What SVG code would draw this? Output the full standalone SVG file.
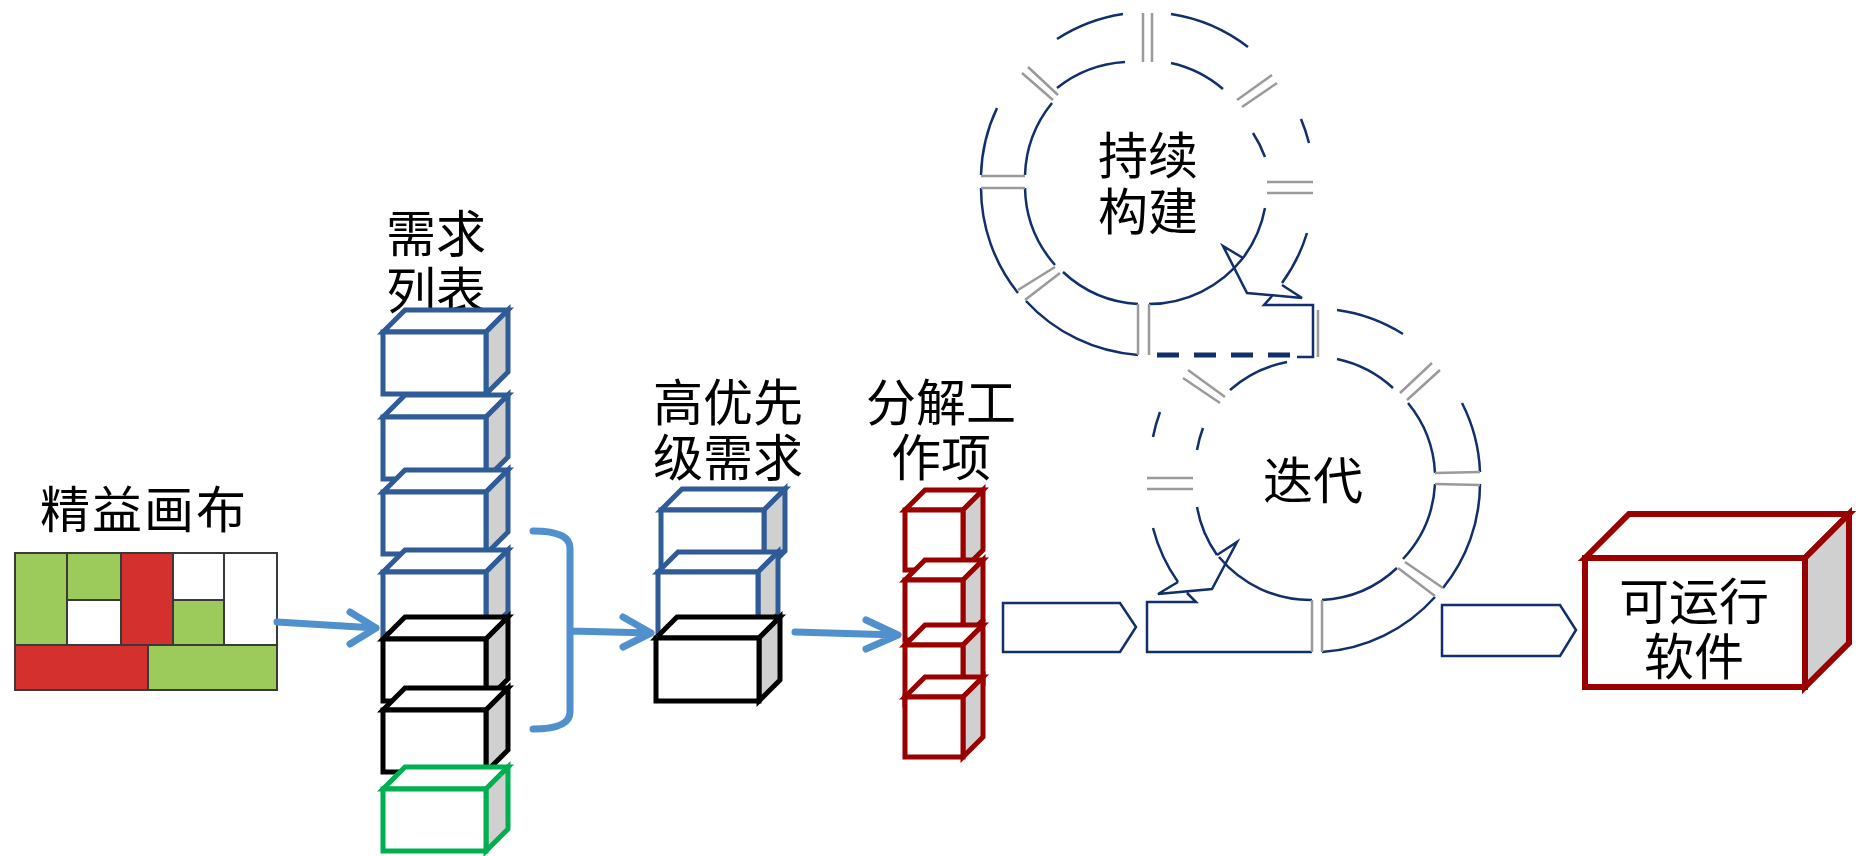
<svg xmlns="http://www.w3.org/2000/svg" width="1856" height="856" viewBox="0 0 1856 856">
<style>
.t{font-family:"Noto Sans CJK SC","Noto Sans CJK JP",sans-serif;font-size:50px;fill:#000}
.m{text-anchor:middle}
.bb{stroke:#2f5b96;stroke-width:5;stroke-linejoin:miter}
.bk{stroke:#000;stroke-width:5}
.bg{stroke:#00b050;stroke-width:5}
.br{stroke:#990000;stroke-width:5}
.fw{fill:#fff}
.fg{fill:#d0d0d0}
.nv{fill:none;stroke:#112f6b;stroke-width:2.5}
.gr{fill:none;stroke:#9a9a9a;stroke-width:2.5}
.ar{fill:none;stroke:#4f90cd;stroke-width:7;stroke-linecap:round;stroke-linejoin:round}
.cv{fill:none;stroke:#112f6b;stroke-width:2.5}
.cg{fill:#9ccb5b;stroke:#3a3a3a;stroke-width:2}
.cr{fill:#d3302e;stroke:#3a3a3a;stroke-width:2}
.cw{fill:#fff;stroke:#3a3a3a;stroke-width:2}
</style>

<g id="lean-canvas">
<text class="t" x="40" y="528" letter-spacing="2">精益画布</text>
<rect class="cg" x="15" y="553" width="52" height="92"/>
<rect class="cg" x="67" y="553" width="54" height="47"/>
<rect class="cw" x="67" y="600" width="54" height="45"/>
<rect class="cr" x="121" y="553" width="52" height="92"/>
<rect class="cw" x="173" y="553" width="51" height="47"/>
<rect class="cg" x="173" y="600" width="51" height="45"/>
<rect class="cw" x="224" y="553" width="53" height="92"/>
<rect class="cr" x="15" y="645" width="133" height="45"/>
<rect class="cg" x="148" y="645" width="129" height="45"/>
</g>

<g id="backlog">
<text class="t" x="386" y="252">需求<tspan x="386" dy="57">列表</tspan></text>
<g class="bb">
<path class="fw" d="M383,332 L405,310 L508,310 L486,332 Z"/><path class="fg" d="M486,332 L508,310 L508,372 L486,394 Z"/><rect class="fw" x="383" y="332" width="103" height="62"/>
<path class="fw" d="M383,417 L405,395 L508,395 L486,417 Z"/><path class="fg" d="M486,417 L508,395 L508,457 L486,479 Z"/><rect class="fw" x="383" y="417" width="103" height="62"/>
<path class="fw" d="M383,492 L405,470 L508,470 L486,492 Z"/><path class="fg" d="M486,492 L508,470 L508,532 L486,554 Z"/><rect class="fw" x="383" y="492" width="103" height="62"/>
<path class="fw" d="M383,572 L405,550 L508,550 L486,572 Z"/><path class="fg" d="M486,572 L508,550 L508,612 L486,634 Z"/><rect class="fw" x="383" y="572" width="103" height="62"/>
</g>
<g class="bk">
<path class="fw" d="M383,639 L405,617 L508,617 L486,639 Z"/><path class="fg" d="M486,639 L508,617 L508,679 L486,701 Z"/><rect class="fw" x="383" y="639" width="103" height="62"/>
<path class="fw" d="M383,710 L405,688 L508,688 L486,710 Z"/><path class="fg" d="M486,710 L508,688 L508,750 L486,772 Z"/><rect class="fw" x="383" y="710" width="103" height="62"/>
</g>
<g class="bg">
<path class="fw" d="M383,789 L405,767 L508,767 L486,789 Z"/><path class="fg" d="M486,789 L508,767 L508,829 L486,851 Z"/><rect class="fw" x="383" y="789" width="103" height="62"/>
</g>
</g>

<g id="priority">
<text class="t" x="653" y="421">高优先<tspan x="653" dy="55">级需求</tspan></text>
<g class="bb">
<path class="fw" d="M661,510 L682,489 L785,489 L764,510 Z"/><path class="fg" d="M764,510 L785,489 L785,551 L764,572 Z"/><rect class="fw" x="661" y="510" width="103" height="62"/>
<path class="fw" d="M658,572 L678,552 L778,552 L758,572 Z"/><path class="fg" d="M758,572 L778,552 L778,614 L758,634 Z"/><rect class="fw" x="658" y="572" width="100" height="62"/>
</g>
<g class="bk">
<path class="fw" d="M656,638 L677,617 L780,617 L759,638 Z"/><path class="fg" d="M759,638 L780,617 L780,680 L759,701 Z"/><rect class="fw" x="656" y="638" width="103" height="63"/>
</g>
</g>

<g id="work-items">
<text class="t m" x="941" y="421">分解工<tspan x="941" dy="55">作项</tspan></text>
<g class="br">
<path class="fw" d="M905,510 L925,490 L983,490 L963,510 Z"/><path class="fg" d="M963,510 L983,490 L983,550 L963,570 Z"/><rect class="fw" x="905" y="510" width="58" height="60"/>
<path class="fw" d="M905,580 L925,560 L983,560 L963,580 Z"/><path class="fg" d="M963,580 L983,560 L983,620 L963,640 Z"/><rect class="fw" x="905" y="580" width="58" height="60"/>
<path class="fw" d="M905,645 L925,625 L983,625 L963,645 Z"/><path class="fg" d="M963,645 L983,625 L983,685 L963,705 Z"/><rect class="fw" x="905" y="645" width="58" height="60"/>
<path class="fw" d="M905,697 L925,677 L983,677 L963,697 Z"/><path class="fg" d="M963,697 L983,677 L983,737 L963,757 Z"/><rect class="fw" x="905" y="697" width="58" height="60"/>
</g>
</g>

<g id="continuous-build">
<path class="nv" d="M1057,39 A168,168 0 0 1 1123,14 M1171,14 A168,168 0 0 1 1248,47 M1301,119 A168,168 0 0 1 1309,143 M1307,233 A168,168 0 0 1 1282,283 M1138,355 A168,168 0 0 1 1026,301 M1018,293 A168,168 0 0 1 981,188 M981,175 A168,168 0 0 1 997,108"/>
<path class="nv" d="M1057,88 A120,120 0 0 1 1125,62 M1171,63 A120,120 0 0 1 1223,89 M1253,133 A120,120 0 0 1 1265,157 M1265,208 A120,120 0 0 1 1243,258 M1243,258 A120,120 0 0 1 1149,304 M1138,304 A120,120 0 0 1 1063,272 M1055,265 A120,120 0 0 1 1025,188 M1025,175 A120,120 0 0 1 1052,103"/>
<path class="nv" d="M1243,258 L1223,246 L1247,293 L1302,298 L1282,285 M1272,296 L1264,305 L1313,305 L1313,357 L1297,357"/>
<path fill="none" stroke="#112f6b" stroke-width="5" stroke-dasharray="22,15" d="M1157,355 L1292,355"/>
<path class="gr" d="M1143,13 L1143,62 M1152,13 L1152,62 M1237,100 L1272,75 M1242,107 L1277,83 M1267,182 L1313,182 M1267,193 L1313,193 M1138,304 L1138,355 M1149,304 L1149,355 M1018,290 L1055,267 M1025,300 L1060,273 M981,176 L1025,176 M981,188 L1025,188 M1022,73 L1053,100 M1028,67 L1058,95 M1318,310 L1318,357"/>
<text class="t m" x="1148" y="174">持续<tspan x="1148" dy="56">构建</tspan></text>
</g>

<g id="iteration">
<path class="nv" d="M1337,310 A166,166 0 0 1 1403,334 M1462,403 A166,166 0 0 1 1480,472 M1480,484 A166,166 0 0 1 1443,588 M1435,597 A166,166 0 0 1 1322,652 M1178,582 A166,166 0 0 1 1153,528 M1153,437 A166,166 0 0 1 1160,412"/>
<path class="nv" d="M1337,359 A119,119 0 0 1 1393,388 M1408,403 A119,119 0 0 1 1435,473 M1435,484 A119,119 0 0 1 1403,559 M1397,568 A119,119 0 0 1 1322,600 M1312,600 A119,119 0 0 1 1219,557 M1217,555 A119,119 0 0 1 1197,507 M1197,450 A119,119 0 0 1 1203,428 M1230,390 A119,119 0 0 1 1287,362"/>
<path class="nv" d="M1217,555 L1237,542 L1212,589 L1158,594 L1178,582 M1187,593 L1196,602 L1147,602 L1147,652 L1312,652"/>
<path class="gr" d="M1183,378 L1220,403 M1188,370 L1225,397 M1400,393 L1432,363 M1407,400 L1440,370 M1147,478 L1193,478 M1147,489 L1193,489 M1435,473 L1480,472 M1435,484 L1480,485 M1398,568 L1435,596 M1405,562 L1443,588 M1312,600 L1312,652 M1322,600 L1322,652"/>
<text class="t m" x="1313" y="499">迭代</text>
</g>

<g id="software">
<g class="br">
<path class="fw" d="M1585,558 L1629,514 L1849,514 L1805,558 Z" stroke-width="6"/>
<path class="fg" d="M1805,558 L1849,514 L1849,643 L1805,687 Z" stroke-width="6"/>
<rect class="fw" x="1585" y="558" width="220" height="129" stroke-width="6"/>
</g>
<text class="t m" x="1694" y="620">可运行<tspan x="1694" dy="55">软件</tspan></text>
</g>

<g id="connectors">
<path class="ar" d="M277,622 L376,628 M350,612 L376,628 L350,644"/>
<path class="ar" d="M533,531 Q570,531 570,548 L570,712 Q570,729 533,729 M570,631 L651,633 M623,617 L651,633 L623,647"/>
<path class="ar" d="M795,632 L898,635 M866,620 L898,635 L866,649"/>
<path class="cv" d="M1003,603 L1120,603 L1136,627 L1120,652 L1003,652 Z"/>
<path class="cv" d="M1442,605 L1560,605 L1576,630 L1560,656 L1442,656 Z"/>
</g>
</svg>
